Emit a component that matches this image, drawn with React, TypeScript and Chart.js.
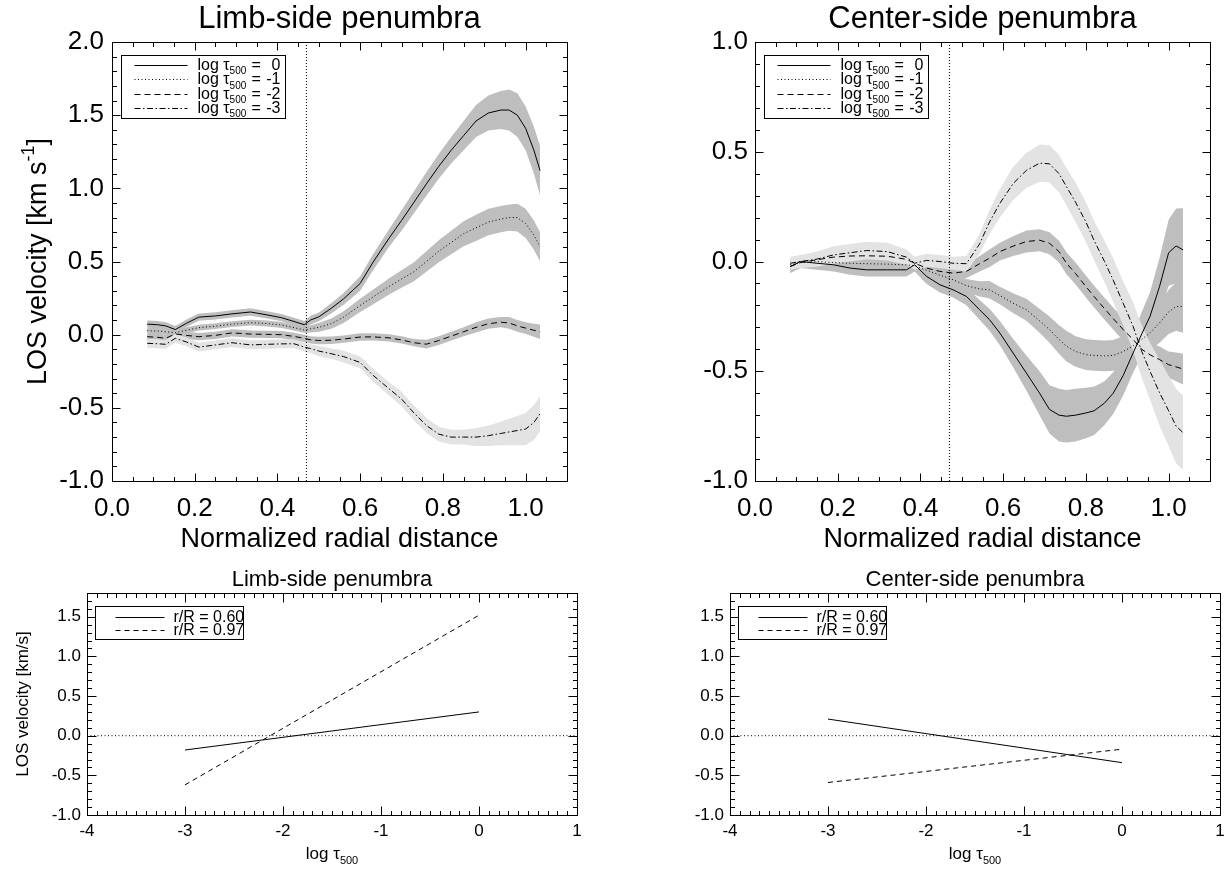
import React, { useEffect, useRef } from "react";
import { Chart, registerables } from "chart.js";

Chart.register(...registerables);

const FONT = '"Liberation Sans", Arial, Helvetica, sans-serif';
const DARK = "#bebebe";
const LIGHT = "#e3e3e3";

// ---------- Top-left: limb-side penumbra, velocity vs normalized radial distance ----------
const LIMB_R = [0.085, 0.11, 0.13, 0.153, 0.18, 0.21, 0.25, 0.29, 0.335, 0.375, 0.41, 0.44, 0.465, 0.48, 0.5, 0.53, 0.56, 0.6, 0.63, 0.67, 0.7, 0.73, 0.76, 0.79, 0.82, 0.85, 0.88, 0.91, 0.94, 0.96, 0.98, 1.0, 1.02, 1.035];
const LIMB_V0 = [0.072, 0.068, 0.06, 0.035, 0.078, 0.12, 0.128, 0.142, 0.155, 0.135, 0.116, 0.09, 0.068, 0.1, 0.122, 0.18, 0.245, 0.35, 0.49, 0.66, 0.78, 0.905, 1.03, 1.15, 1.26, 1.36, 1.46, 1.515, 1.535, 1.535, 1.5, 1.41, 1.26, 1.12];
const LIMB_E0 = [0.025, 0.025, 0.025, 0.025, 0.025, 0.025, 0.025, 0.025, 0.025, 0.025, 0.025, 0.025, 0.025, 0.03, 0.03, 0.035, 0.04, 0.05, 0.055, 0.06, 0.07, 0.075, 0.08, 0.085, 0.09, 0.1, 0.11, 0.12, 0.13, 0.14, 0.15, 0.15, 0.16, 0.17];
const LIMB_V1 = [0.027, 0.025, 0.02, 0.013, 0.03, 0.048, 0.058, 0.072, 0.082, 0.076, 0.066, 0.048, 0.032, 0.04, 0.05, 0.075, 0.12, 0.2, 0.255, 0.33, 0.38, 0.43, 0.5, 0.57, 0.63, 0.69, 0.73, 0.77, 0.79, 0.8, 0.8, 0.76, 0.68, 0.6];
const LIMB_E1 = [0.02, 0.02, 0.02, 0.02, 0.02, 0.02, 0.02, 0.02, 0.02, 0.02, 0.02, 0.02, 0.02, 0.025, 0.03, 0.035, 0.04, 0.045, 0.05, 0.055, 0.06, 0.065, 0.07, 0.075, 0.08, 0.085, 0.09, 0.09, 0.09, 0.09, 0.095, 0.1, 0.1, 0.1];
const LIMB_V2 = [-0.014, -0.018, -0.025, 0.005, -0.005, -0.014, -0.005, 0.012, 0.004, 0.002, 0.0, -0.012, -0.025, -0.035, -0.04, -0.038, -0.03, -0.016, -0.015, -0.022, -0.036, -0.055, -0.065, -0.04, -0.01, 0.02, 0.05, 0.075, 0.085, 0.08, 0.06, 0.045, 0.03, 0.02];
const LIMB_E2 = [0.025, 0.025, 0.025, 0.025, 0.025, 0.025, 0.025, 0.025, 0.025, 0.025, 0.025, 0.025, 0.025, 0.025, 0.025, 0.025, 0.025, 0.025, 0.025, 0.025, 0.025, 0.025, 0.03, 0.03, 0.03, 0.03, 0.035, 0.035, 0.035, 0.04, 0.04, 0.04, 0.045, 0.05];
const LIMB_V3 = [-0.059, -0.062, -0.066, -0.025, -0.05, -0.085, -0.07, -0.055, -0.07, -0.066, -0.063, -0.062, -0.085, -0.095, -0.112, -0.13, -0.15, -0.19, -0.275, -0.37, -0.44, -0.535, -0.62, -0.68, -0.7, -0.7, -0.7, -0.69, -0.675, -0.665, -0.655, -0.645, -0.6, -0.54];
const LIMB_E3 = [0.03, 0.03, 0.03, 0.03, 0.03, 0.03, 0.03, 0.03, 0.03, 0.03, 0.03, 0.03, 0.03, 0.03, 0.035, 0.035, 0.04, 0.04, 0.045, 0.045, 0.05, 0.05, 0.05, 0.05, 0.05, 0.05, 0.06, 0.07, 0.08, 0.09, 0.1, 0.11, 0.12, 0.12];

// ---------- Top-right: center-side penumbra ----------
const CENTER_R = [0.085, 0.11, 0.15, 0.19, 0.23, 0.27, 0.32, 0.366, 0.386, 0.415, 0.447, 0.479, 0.511, 0.543, 0.567, 0.592, 0.624, 0.656, 0.688, 0.712, 0.735, 0.753, 0.775, 0.8, 0.82, 0.845, 0.866, 0.89, 0.914, 0.935, 0.955, 0.978, 1.0, 1.018, 1.035];
const CENTER_V0 = [-0.023, 0.0, -0.008, -0.015, -0.03, -0.038, -0.038, -0.038, -0.015, -0.068, -0.106, -0.129, -0.159, -0.22, -0.265, -0.326, -0.417, -0.508, -0.6, -0.674, -0.7, -0.705, -0.7, -0.69, -0.68, -0.645, -0.6, -0.52, -0.417, -0.33, -0.25, -0.114, 0.04, 0.071, 0.053];
const CENTER_E0 = [0.03, 0.03, 0.03, 0.03, 0.03, 0.03, 0.03, 0.03, 0.03, 0.035, 0.035, 0.035, 0.04, 0.045, 0.05, 0.055, 0.065, 0.08, 0.1, 0.11, 0.12, 0.12, 0.12, 0.115, 0.11, 0.1, 0.095, 0.09, 0.09, 0.1, 0.11, 0.13, 0.15, 0.17, 0.19];
const CENTER_V1 = [-0.015, -0.005, 0.0, -0.005, -0.008, -0.01, -0.012, -0.015, -0.02, -0.04, -0.062, -0.083, -0.11, -0.125, -0.129, -0.155, -0.19, -0.22, -0.27, -0.31, -0.355, -0.386, -0.41, -0.424, -0.428, -0.43, -0.428, -0.41, -0.385, -0.355, -0.325, -0.28, -0.23, -0.205, -0.205];
const CENTER_E1 = [0.02, 0.02, 0.02, 0.02, 0.02, 0.02, 0.02, 0.02, 0.02, 0.025, 0.025, 0.03, 0.03, 0.035, 0.04, 0.04, 0.045, 0.05, 0.055, 0.06, 0.065, 0.07, 0.07, 0.07, 0.07, 0.07, 0.07, 0.07, 0.07, 0.075, 0.08, 0.09, 0.1, 0.11, 0.12];
const CENTER_V2 = [-0.023, -0.005, 0.008, 0.02, 0.025, 0.026, 0.024, 0.01, -0.008, -0.03, -0.045, -0.053, -0.045, -0.01, 0.015, 0.045, 0.07, 0.091, 0.097, 0.083, 0.045, -0.008, -0.055, -0.114, -0.16, -0.215, -0.26, -0.31, -0.355, -0.4, -0.425, -0.447, -0.47, -0.48, -0.49];
const CENTER_E2 = [0.025, 0.025, 0.025, 0.025, 0.025, 0.025, 0.025, 0.025, 0.025, 0.025, 0.025, 0.03, 0.03, 0.035, 0.04, 0.04, 0.045, 0.05, 0.05, 0.05, 0.05, 0.05, 0.05, 0.05, 0.05, 0.05, 0.05, 0.05, 0.05, 0.055, 0.055, 0.06, 0.06, 0.065, 0.07];
const CENTER_V3 = [-0.008, 0.0, 0.011, 0.03, 0.04, 0.05, 0.045, 0.02, -0.008, 0.005, 0.0, -0.008, -0.01, 0.08, 0.18, 0.265, 0.355, 0.415, 0.448, 0.445, 0.4, 0.341, 0.27, 0.18, 0.095, 0.0, -0.085, -0.19, -0.295, -0.41, -0.5, -0.598, -0.68, -0.75, -0.78];
const CENTER_E3 = [0.03, 0.03, 0.035, 0.04, 0.04, 0.04, 0.04, 0.035, 0.03, 0.03, 0.03, 0.03, 0.035, 0.045, 0.055, 0.065, 0.075, 0.08, 0.085, 0.085, 0.085, 0.085, 0.09, 0.09, 0.09, 0.095, 0.1, 0.1, 0.11, 0.12, 0.13, 0.15, 0.16, 0.17, 0.17];

// ---------- Bottom: velocity vs optical depth ----------
const LOG_TAU = [-3, 0];
const LIMB_R060 = [-0.18, 0.3];
const LIMB_R097 = [-0.62, 1.52];
const CENTER_R060 = [0.21, -0.34];
const CENTER_R097 = [-0.59, -0.17];

// ---------- Ticks / labels ----------
const TOP_X_TICKS = [0, 0.2, 0.4, 0.6, 0.8, 1.0];
const LIMB_Y_TICKS = [-1, -0.5, 0, 0.5, 1, 1.5, 2];
const CENTER_Y_TICKS = [-1, -0.5, 0, 0.5, 1];
const BOTTOM_X_TICKS = [-4, -3, -2, -1, 0, 1];
const BOTTOM_Y_TICKS = [-1, -0.5, 0, 0.5, 1, 1.5];
const TAU_LEVELS = ["0", "-1", "-2", "-3"];
const RADII = ["0.60", "0.97"];
const PENUMBRA_EDGE = 0.47;

const TOP_DASHES = [[], [1, 2.5], [6, 4], [6, 2.5, 1.5, 2.5]];
const BOTTOM_DASHES = [[], [5, 4]];

type Seg = { t: string; sub?: boolean; sup?: boolean };

function drawRich(ctx: CanvasRenderingContext2D, segs: Seg[], x: number, y: number, size: number, align: string) {
  const small = Math.round(size * 0.65);
  const ws = segs.map((s) => {
    ctx.font = `${s.sub || s.sup ? small : size}px ${FONT}`;
    return ctx.measureText(s.t).width;
  });
  const total = ws.reduce((p, c) => p + c, 0);
  let cx = align === "left" ? x : align === "center" ? x - total / 2 : x - total;
  ctx.textAlign = "left";
  ctx.textBaseline = "alphabetic";
  ctx.fillStyle = "#000";
  segs.forEach((s, i) => {
    ctx.font = `${s.sub || s.sup ? small : size}px ${FONT}`;
    const dy = s.sub ? size * 0.28 : s.sup ? -size * 0.42 : 0;
    ctx.fillText(s.t, cx, y + dy);
    cx += ws[i];
  });
}

function band(xs: number[], v: number[], e: number[], color: string) {
  return [
    { data: xs.map((x, i) => ({ x, y: v[i] + e[i] })), borderWidth: 0, borderColor: "rgba(0,0,0,0)", backgroundColor: color, pointRadius: 0, fill: "+1", tension: 0 },
    { data: xs.map((x, i) => ({ x, y: v[i] - e[i] })), borderWidth: 0, borderColor: "rgba(0,0,0,0)", backgroundColor: color, pointRadius: 0, fill: false, tension: 0 },
  ];
}

function line(xs: number[], v: number[], dash: number[]) {
  return { data: xs.map((x, i) => ({ x, y: v[i] })), borderColor: "#000", borderWidth: 1, borderDash: dash, pointRadius: 0, fill: false, tension: 0 };
}

function topDatasets(xs: number[], vs: number[][], es: number[][], yMin: number, yMax: number) {
  return [
    ...band(xs, vs[3], es[3], LIGHT),
    ...band(xs, vs[2], es[2], DARK),
    ...band(xs, vs[1], es[1], DARK),
    ...band(xs, vs[0], es[0], DARK),
    line(xs, vs[0], TOP_DASHES[0]),
    line(xs, vs[1], TOP_DASHES[1]),
    line(xs, vs[2], TOP_DASHES[2]),
    line(xs, vs[3], TOP_DASHES[3]),
    { data: [{ x: PENUMBRA_EDGE, y: yMin }, { x: PENUMBRA_EDGE, y: yMax }], borderColor: "#000", borderWidth: 1, borderDash: [1, 2], pointRadius: 0, fill: false },
  ];
}

function bottomDatasets(a: number[], b: number[]) {
  return [
    line(LOG_TAU, a, BOTTOM_DASHES[0]),
    line(LOG_TAU, b, BOTTOM_DASHES[1]),
    { data: [{ x: -4, y: 0 }, { x: 1, y: 0 }], borderColor: "#000", borderWidth: 1, borderDash: [1, 2.5], pointRadius: 0, fill: false },
  ];
}

const topLegend = {
  dx: 8.5, dy: 13, w: 164, h: 63, row0: 9.5, rowStep: 14.3, lx0: 13, lx1: 66, tx: 76, ex: 130, vx: 159, size: 16, baseOff: 5,
  rows: TAU_LEVELS.map((lv, i) => ({ dash: TOP_DASHES[i], segs: [{ t: "log τ" }, { t: "500", sub: true }], eq: "=", value: lv })),
};
const bottomLegend = {
  dx: 7.5, dy: 13, w: 148, h: 33, row0: 10, rowStep: 13.3, lx0: 20, lx1: 69, tx: 78, ex: 0, vx: 0, size: 16, baseOff: 5,
  rows: RADII.map((r, i) => ({ dash: BOTTOM_DASHES[i], segs: [{ t: `r/R = ${r}` }], eq: "", value: "" })),
};

const yTitleTop: Seg[] = [{ t: "LOS velocity [km s" }, { t: "-1", sup: true }, { t: "]" }];
const xTitleTop: Seg[] = [{ t: "Normalized radial distance" }];
const xTitleBottom: Seg[] = [{ t: "log τ" }, { t: "500", sub: true }];

const PANELS: any[] = [
  {
    left: 0, top: 0, w: 614, h: 560, area: { l: 112, t: 42, r: 567, b: 481 },
    x: { min: 0, max: 1.1, ticks: TOP_X_TICKS, minor: 0.05, dec: 1 },
    y: { min: -1, max: 2, ticks: LIMB_Y_TICKS, minor: 0.1, dec: 1 },
    tickFont: 26, xPad: 12, yPad: 8, majorLen: 8, minorLen: 4.5,
    title: { segs: [{ t: "Limb-side penumbra" }], size: 31, y: 17 },
    xTitle: { segs: xTitleTop, size: 27, y: 537 },
    yTitle: { segs: yTitleTop, size: 27, x: 36 },
    legend: topLegend,
    datasets: topDatasets(LIMB_R, [LIMB_V0, LIMB_V1, LIMB_V2, LIMB_V3], [LIMB_E0, LIMB_E1, LIMB_E2, LIMB_E3], -1, 2),
  },
  {
    left: 614, top: 0, w: 615, h: 560, area: { l: 141, t: 42, r: 596, b: 481 },
    x: { min: 0, max: 1.1, ticks: TOP_X_TICKS, minor: 0.05, dec: 1 },
    y: { min: -1, max: 1, ticks: CENTER_Y_TICKS, minor: 0.1, dec: 1 },
    tickFont: 26, xPad: 12, yPad: 7, majorLen: 8, minorLen: 4.5,
    title: { segs: [{ t: "Center-side penumbra" }], size: 31, y: 17 },
    xTitle: { segs: xTitleTop, size: 27, y: 537 },
    yTitle: null,
    legend: topLegend,
    datasets: topDatasets(CENTER_R, [CENTER_V0, CENTER_V1, CENTER_V2, CENTER_V3], [CENTER_E0, CENTER_E1, CENTER_E2, CENTER_E3], -1, 1),
  },
  {
    left: 0, top: 560, w: 614, h: 309, area: { l: 87, t: 33, r: 577, b: 255 },
    x: { min: -4, max: 1, ticks: BOTTOM_X_TICKS, minor: 0.1, dec: 0 },
    y: { min: -1, max: 1.8, ticks: BOTTOM_Y_TICKS, minor: 0.1, dec: 1 },
    tickFont: 17, xPad: 6, yPad: 6, majorLen: 9, minorLen: 4.5,
    title: { segs: [{ t: "Limb-side penumbra" }], size: 22, y: 18 },
    xTitle: { segs: xTitleBottom, size: 17, y: 293 },
    yTitle: { segs: [{ t: "LOS velocity [km/s]" }], size: 17, x: 22 },
    legend: bottomLegend,
    datasets: bottomDatasets(LIMB_R060, LIMB_R097),
  },
  {
    left: 614, top: 560, w: 615, h: 309, area: { l: 116, t: 33, r: 606, b: 255 },
    x: { min: -4, max: 1, ticks: BOTTOM_X_TICKS, minor: 0.1, dec: 0 },
    y: { min: -1, max: 1.8, ticks: BOTTOM_Y_TICKS, minor: 0.1, dec: 1 },
    tickFont: 17, xPad: 6, yPad: 6, majorLen: 9, minorLen: 4.5,
    title: { segs: [{ t: "Center-side penumbra" }], size: 22, y: 18 },
    xTitle: { segs: xTitleBottom, size: 17, y: 293 },
    yTitle: null,
    legend: bottomLegend,
    datasets: bottomDatasets(CENTER_R060, CENTER_R097),
  },
];

function decorPlugin(spec: any) {
  return {
    id: "decor",
    afterDraw(chart: any) {
      const ctx: CanvasRenderingContext2D = chart.ctx;
      const a = chart.chartArea;
      const xs = chart.scales.x;
      const ys = chart.scales.y;
      ctx.save();
      ctx.strokeStyle = "#000";
      ctx.lineWidth = 1;
      ctx.setLineDash([]);
      const L = Math.round(a.left) + 0.5;
      const T = Math.round(a.top) + 0.5;
      const R = Math.round(a.right) + 0.5;
      const B = Math.round(a.bottom) + 0.5;
      ctx.strokeRect(L, T, R - L, B - T);

      const isMajor = (v: number, list: number[]) => list.some((m) => Math.abs(m - v) < 1e-6);
      const nx = Math.round((xs.max - xs.min) / spec.x.minor);
      ctx.beginPath();
      for (let i = 0; i <= nx; i++) {
        const v = xs.min + i * spec.x.minor;
        const len = isMajor(v, spec.x.ticks) ? spec.majorLen : spec.minorLen;
        const px = Math.round(xs.getPixelForValue(v)) + 0.5;
        ctx.moveTo(px, B); ctx.lineTo(px, B - len);
        ctx.moveTo(px, T); ctx.lineTo(px, T + len);
      }
      const ny = Math.round((ys.max - ys.min) / spec.y.minor);
      for (let i = 0; i <= ny; i++) {
        const v = ys.min + i * spec.y.minor;
        const len = isMajor(v, spec.y.ticks) ? spec.majorLen : spec.minorLen;
        const py = Math.round(ys.getPixelForValue(v)) + 0.5;
        ctx.moveTo(L, py); ctx.lineTo(L + len, py);
        ctx.moveTo(R, py); ctx.lineTo(R - len, py);
      }
      ctx.stroke();

      // legend
      const lg = spec.legend;
      const bx = Math.round(a.left + lg.dx) + 0.5;
      const by = Math.round(a.top + lg.dy) + 0.5;
      ctx.fillStyle = "#fff";
      ctx.fillRect(bx, by, lg.w, lg.h);
      ctx.strokeRect(bx, by, lg.w, lg.h);
      lg.rows.forEach((row: any, i: number) => {
        const cy = by + lg.row0 + lg.rowStep * i;
        const ly = Math.round(cy) + 0.5;
        ctx.setLineDash(row.dash);
        ctx.beginPath();
        ctx.moveTo(bx + lg.lx0, ly);
        ctx.lineTo(bx + lg.lx1, ly);
        ctx.stroke();
        ctx.setLineDash([]);
        drawRich(ctx, row.segs, bx + lg.tx, cy + lg.baseOff, lg.size, "left");
        if (row.eq) drawRich(ctx, [{ t: row.eq }], bx + lg.ex, cy + lg.baseOff, lg.size, "left");
        if (row.value) drawRich(ctx, [{ t: row.value }], bx + lg.vx, cy + lg.baseOff, lg.size, "right");
      });

      // titles
      const cx = (a.left + a.right) / 2;
      const cyMid = (a.top + a.bottom) / 2;
      drawRich(ctx, spec.title.segs, cx, spec.title.y + spec.title.size * 0.36, spec.title.size, "center");
      drawRich(ctx, spec.xTitle.segs, cx, spec.xTitle.y + spec.xTitle.size * 0.36, spec.xTitle.size, "center");
      if (spec.yTitle) {
        ctx.save();
        ctx.translate(spec.yTitle.x, cyMid);
        ctx.rotate(-Math.PI / 2);
        drawRich(ctx, spec.yTitle.segs, 0, spec.yTitle.size * 0.36, spec.yTitle.size, "center");
        ctx.restore();
      }
      ctx.restore();
    },
  };
}

function Panel({ spec }: { spec: any }) {
  const ref = useRef<HTMLCanvasElement>(null);
  useEffect(() => {
    const canvas = ref.current;
    if (!canvas) return;
    const chart = new Chart(canvas, {
      type: "line",
      data: { datasets: spec.datasets },
      options: {
        animation: false,
        responsive: false,
        events: [],
        layout: { padding: { left: 0, top: spec.area.t, right: spec.w - spec.area.r, bottom: 0 } },
        plugins: {
          legend: { display: false },
          tooltip: { enabled: false },
          title: { display: false },
          filler: { propagate: false, drawTime: "beforeDatasetsDraw" },
        },
        scales: {
          x: {
            type: "linear",
            min: spec.x.min,
            max: spec.x.max,
            grid: { display: false, drawTicks: false },
            border: { display: false },
            ticks: {
              color: "#000",
              font: { family: FONT, size: spec.tickFont },
              padding: spec.xPad,
              autoSkip: false,
              maxRotation: 0,
              callback: (v: any) => Number(v).toFixed(spec.x.dec),
            },
            afterBuildTicks: (s: any) => {
              s.ticks = spec.x.ticks.map((v: number) => ({ value: v }));
            },
            afterFit: (s: any) => {
              s.height = spec.h - spec.area.b;
              s.paddingLeft = 0;
              s.paddingRight = 0;
            },
          },
          y: {
            type: "linear",
            min: spec.y.min,
            max: spec.y.max,
            grid: { display: false, drawTicks: false },
            border: { display: false },
            ticks: {
              color: "#000",
              font: { family: FONT, size: spec.tickFont },
              padding: spec.yPad,
              autoSkip: false,
              callback: (v: any) => Number(v).toFixed(spec.y.dec),
            },
            afterBuildTicks: (s: any) => {
              s.ticks = spec.y.ticks.map((v: number) => ({ value: v }));
            },
            afterFit: (s: any) => {
              s.width = spec.area.l;
              s.paddingTop = 0;
              s.paddingBottom = 0;
            },
          },
        },
      } as any,
      plugins: [decorPlugin(spec)],
    });
    return () => chart.destroy();
  }, [spec]);
  return (
    <canvas
      ref={ref}
      width={spec.w}
      height={spec.h}
      style={{ position: "absolute", left: spec.left, top: spec.top, width: spec.w, height: spec.h }}
    />
  );
}

export default function App() {
  return (
    <div style={{ position: "absolute", left: 0, top: 0, width: 1229, height: 869, background: "#fff", overflow: "hidden" }}>
      {PANELS.map((p, i) => (
        <Panel key={i} spec={p} />
      ))}
    </div>
  );
}
